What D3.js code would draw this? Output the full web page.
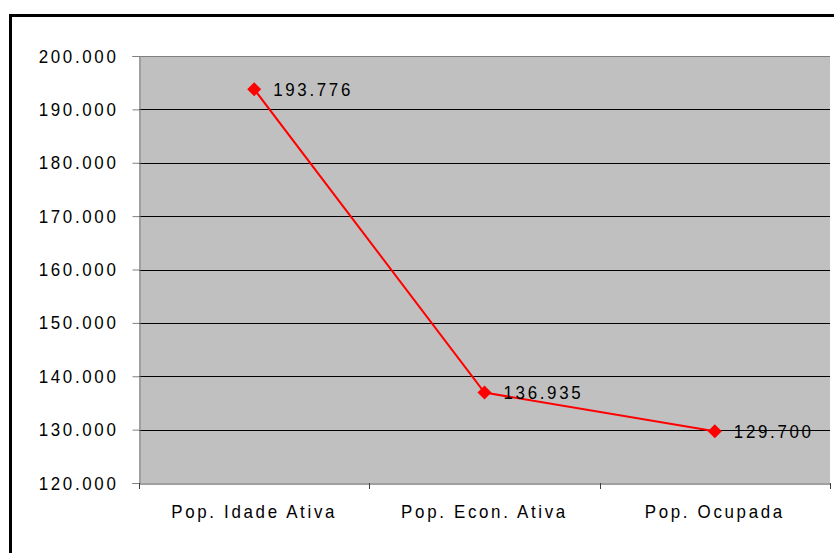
<!DOCTYPE html>
<html>
<head>
<meta charset="utf-8">
<script src="https://cdn.jsdelivr.net/npm/d3@7"></script>
<style>
  body { margin: 0; background: #fff; }
  text { font-family: "Liberation Sans", Arial, sans-serif; fill: #000; }
</style>
</head>
<body>
<div id="chart"></div>
<script>
// chart data
const categories = ["Pop. Idade Ativa", "Pop. Econ. Ativa", "Pop. Ocupada"];
const values = [193776, 136935, 129700];
const yTicks = [120000, 130000, 140000, 150000, 160000, 170000, 180000, 190000, 200000];

const w = 834, h = 553;
const plotLeft = 139, plotRight = 830, plotTop = 56, plotBottom = 483;

const fmt = (v) => d3.format(",")(v).replace(/,/g, ".");

// narrow-ish text: draw normally, then squeeze horizontally
const squeeze = (sel) => {
  sel.attr("font-size", 19).attr("letter-spacing", 3).attr("fill", "#000")
    .each(function () {
      const len = this.getComputedTextLength();
      d3.select(this).attr("textLength", len * 0.89).attr("lengthAdjust", "spacingAndGlyphs");
    });
};

const svg = d3.select("#chart").append("svg").attr("width", w).attr("height", h);

// outer frame
svg.append("rect")
  .attr("x", 10.5).attr("y", 15.5)
  .attr("width", w + 20).attr("height", h + 20)
  .attr("fill", "none").attr("stroke", "#000").attr("stroke-width", 3);

const x = d3.scaleBand().domain(categories).range([plotLeft, plotRight]);
const y = d3.scaleLinear().domain([120000, 200000]).range([plotBottom, plotTop]);

// plot background
svg.append("rect")
  .attr("x", plotLeft).attr("y", plotTop)
  .attr("width", plotRight - plotLeft).attr("height", plotBottom - plotTop)
  .attr("fill", "#c0c0c0");

// gridlines
svg.append("g")
  .selectAll("line")
  .data(yTicks.slice(1, -1))
  .join("line")
  .attr("x1", plotLeft).attr("x2", plotRight)
  .attr("y1", (d) => Math.round(y(d)) + 0.5).attr("y2", (d) => Math.round(y(d)) + 0.5)
  .attr("stroke", "#000");

// top border of plot
svg.append("line")
  .attr("x1", plotLeft).attr("x2", plotRight)
  .attr("y1", plotTop + 0.5).attr("y2", plotTop + 0.5)
  .attr("stroke", "#808080");

// y axis
const yAxis = d3.axisLeft(y).tickValues(yTicks).tickSize(7).tickPadding(14).tickFormat(fmt);
const gy = svg.append("g").attr("transform", `translate(${plotLeft + 0.5},0)`).call(yAxis);
gy.select(".domain").attr("stroke", "#808080");
gy.selectAll(".tick line").attr("stroke", "#808080");
gy.selectAll("text").call(squeeze);

// x axis
const xAxis = d3.axisBottom(x).tickSize(0).tickPadding(21);
const gx = svg.append("g").attr("transform", `translate(0,${plotBottom + 0.5})`).call(xAxis);
gx.select(".domain").attr("stroke", "#404040");
gx.selectAll("text").call(squeeze);

// category boundary ticks
const bounds = categories.map((c) => x(c)).concat([x(categories[2]) + x.bandwidth()]);
svg.append("g")
  .selectAll("line")
  .data(bounds)
  .join("line")
  .attr("x1", (d) => Math.round(d) + 0.5).attr("x2", (d) => Math.round(d) + 0.5)
  .attr("y1", plotBottom).attr("y2", plotBottom + 6)
  .attr("stroke", "#404040");

// line series
const pts = categories.map((c, i) => [x(c) + x.bandwidth() / 2, y(values[i])]);
svg.append("path")
  .attr("d", d3.line()(pts))
  .attr("fill", "none")
  .attr("stroke", "#ff0000")
  .attr("stroke-width", 2);

svg.append("g")
  .selectAll("path")
  .data(pts)
  .join("path")
  .attr("transform", (d) => `translate(${d[0]},${d[1]})`)
  .attr("d", "M0,-7L7,0L0,7L-7,0Z")
  .attr("fill", "#ff0000");

// data labels
svg.append("g")
  .selectAll("text")
  .data(values)
  .join("text")
  .attr("x", (d, i) => pts[i][0] + 19)
  .attr("y", (d, i) => pts[i][1])
  .attr("dy", "0.36em")
  .text((d) => fmt(d))
  .call(squeeze);
</script>
</body>
</html>
